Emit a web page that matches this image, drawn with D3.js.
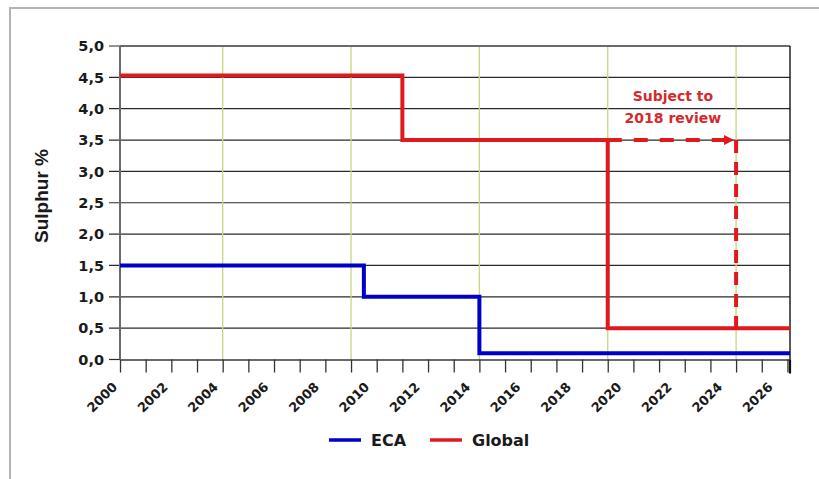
<!DOCTYPE html>
<html>
<head>
<meta charset="utf-8">
<script src="https://cdn.jsdelivr.net/npm/d3@7"></script>
<style>
  html, body { margin: 0; padding: 0; background: #fff; }
  svg { display: block; }
</style>
</head>
<body>
<svg id="chart" width="819" height="479"></svg>
<script>
// ---- data (x values read against the axis labels) ----
const axisYears = d3.range(2000, 2027);            // tick positions
const labelYears = d3.range(2000, 2027, 2);        // labelled ticks
const yTicks = [0, 0.5, 1, 1.5, 2, 2.5, 3, 3.5, 4, 4.5, 5];
const greenGridYears = [2004, 2009, 2014, 2019, 2024];

const ecaYears   = [2000, 2009.5, 2014, 2026.1];
const ecaValues  = [1.5, 1.0, 0.1, 0.1];
const globalYears  = [2000, 2011, 2019, 2026.1];
const globalValues = [4.53, 3.5, 0.5, 0.5];
const reviewYears  = [2019, 2024];
const reviewValues = [3.5, 3.5];
const reviewDropYears  = [2024, 2024];
const reviewDropValues = [3.5, 0.5];

const seriesNames = ["ECA", "Global"];
const seriesColors = ["#0000c8", "#e0191c"];
const annotationLines = ["Subject to", "2018 review"];

// ---- layout ----
const svg = d3.select("#chart");
const L = 120, R = 790, T = 46, B = 359.5;
const x = d3.scaleLinear().domain([2000, 2026.1]).range([L, R]);
const y = d3.scaleLinear().domain([0, 5]).range([B, T]);
// label placement scale (the rotated labels sit on a slightly tighter spacing)
const labelX = d3.scaleLinear().domain([2000, 2026]).range([117.6, 773]);
const fmt = d => d3.format(".1f")(d).replace(".", ",");

// outer frame
svg.append("rect").attr("x", 10).attr("y", 8).attr("width", 840).attr("height", 520)
  .attr("fill", "none").attr("stroke", "#b4b4b4").attr("stroke-width", 2);

// horizontal gridlines + y ticks
svg.append("g").selectAll("line").data(yTicks.filter(d => d > 0)).join("line")
  .attr("x1", L - 11).attr("x2", R).attr("y1", d => y(d)).attr("y2", d => y(d))
  .attr("stroke", "#2a2a2a").attr("stroke-width", 1.2);
svg.append("line").attr("x1", L - 11).attr("x2", L).attr("y1", y(0)).attr("y2", y(0))
  .attr("stroke", "#2a2a2a").attr("stroke-width", 1.2);

// green vertical gridlines
svg.append("g").selectAll("line").data(greenGridYears).join("line")
  .attr("x1", d => x(d)).attr("x2", d => x(d)).attr("y1", T).attr("y2", B)
  .attr("stroke", "#c9d67c").attr("stroke-width", 1.3);

// plot frame
svg.append("line").attr("x1", L).attr("x2", R).attr("y1", T).attr("y2", T)
  .attr("stroke", "#6a6a6a").attr("stroke-width", 2);
svg.append("line").attr("x1", L).attr("x2", L).attr("y1", T).attr("y2", B)
  .attr("stroke", "#6a6a6a").attr("stroke-width", 2);
svg.append("line").attr("x1", R).attr("x2", R).attr("y1", T).attr("y2", B)
  .attr("stroke", "#222").attr("stroke-width", 1.5);

// x axis
const xAxis = d3.axisBottom(x).tickValues(axisYears).tickSize(13).tickSizeOuter(0)
  .tickFormat(d => labelYears.includes(d) ? String(d) : "");
const gx = svg.append("g").attr("transform", `translate(0,${B})`).call(xAxis);
gx.select(".domain").attr("stroke", "#6a6a6a").attr("stroke-width", 2.2);
gx.selectAll(".tick line").attr("stroke", "#333").attr("stroke-width", 1.3);
gx.selectAll(".tick text")
  .attr("font-family", "DejaVu Sans, Verdana, sans-serif")
  .attr("font-weight", "bold").attr("font-size", 13).attr("fill", "#1a1a1a")
  .attr("text-anchor", "end")
  .attr("transform", d => `translate(${labelX(d) - x(d) - 3.2},25) rotate(-45)`)
  .attr("y", 0).attr("dy", "0.35em");
svg.append("line").attr("x1", R).attr("x2", R).attr("y1", B).attr("y2", B + 14)
  .attr("stroke", "#111").attr("stroke-width", 2.2);

// y labels
svg.append("g").selectAll("text").data(yTicks).join("text")
  .attr("x", L - 16).attr("y", d => y(d)).attr("dy", "0.36em")
  .attr("text-anchor", "end")
  .attr("font-family", "DejaVu Sans, Verdana, sans-serif")
  .attr("font-weight", "bold").attr("font-size", 14.5).attr("fill", "#1a1a1a")
  .text(fmt);

// y title
svg.append("text")
  .attr("transform", "translate(48,196) rotate(-90)")
  .attr("text-anchor", "middle")
  .attr("font-family", "Liberation Sans, Arial, sans-serif")
  .attr("font-weight", "bold").attr("font-size", 19).attr("fill", "#1a1a1a")
  .text("Sulphur %");

// series
const line = d3.line().x(d => x(d[0])).y(d => y(d[1])).curve(d3.curveStepAfter);
const straight = d3.line().x(d => x(d[0])).y(d => y(d[1]));

svg.append("path").datum(d3.zip(ecaYears, ecaValues)).attr("d", line)
  .attr("fill", "none").attr("stroke", seriesColors[0]).attr("stroke-width", 4);
svg.append("path").datum(d3.zip(globalYears, globalValues)).attr("d", line)
  .attr("fill", "none").attr("stroke", seriesColors[1]).attr("stroke-width", 4);

// arrow marker
svg.append("defs").append("marker").attr("id", "arrow")
  .attr("viewBox", "0 0 10 10").attr("refX", 10).attr("refY", 5)
  .attr("markerUnits", "userSpaceOnUse").attr("markerWidth", 11).attr("markerHeight", 10)
  .attr("orient", "auto")
  .append("path").attr("d", "M0,0 L10,5 L0,10 Z").attr("fill", seriesColors[1]);

const rev = d3.zip(reviewYears, reviewValues);
svg.append("path").datum(rev)
  .attr("d", d => `M${x(d[0][0])},${y(d[0][1])} H${x(d[1][0]) - 2}`)
  .attr("fill", "none").attr("stroke", seriesColors[1]).attr("stroke-width", 4)
  .attr("stroke-dasharray", "14,12").attr("marker-end", "url(#arrow)");
svg.append("path").datum(d3.zip(reviewDropYears, reviewDropValues)).attr("d", straight)
  .attr("fill", "none").attr("stroke", seriesColors[1]).attr("stroke-width", 4)
  .attr("stroke-dasharray", "13,9");

// annotation
const ax = (x(2019) + x(2024)) / 2 + 1;
svg.append("text").attr("x", ax).attr("y", 101)
  .attr("text-anchor", "middle")
  .attr("font-family", "DejaVu Sans, Verdana, sans-serif")
  .attr("font-weight", "bold").attr("font-size", 14).attr("fill", "#d42a2c")
  .selectAll("tspan").data(annotationLines).join("tspan")
  .attr("x", ax).attr("dy", (d, i) => i ? 22 : 0)
  .text(d => d);

// legend
const lg = svg.append("g").attr("transform", "translate(329,440)");
const legendPos = [0, 101];
seriesNames.forEach((name, i) => {
  const g = lg.append("g").attr("transform", `translate(${legendPos[i]},0)`);
  g.append("line").attr("x1", 0).attr("x2", 32).attr("y1", 0).attr("y2", 0)
    .attr("stroke", seriesColors[i]).attr("stroke-width", 3.5);
  g.append("text").attr("x", 42).attr("y", 0).attr("dy", "0.36em")
    .attr("font-family", "DejaVu Sans, Verdana, sans-serif")
    .attr("font-weight", "bold").attr("font-size", 16).attr("fill", "#1a1a1a")
    .text(name);
});
</script>
</body>
</html>
